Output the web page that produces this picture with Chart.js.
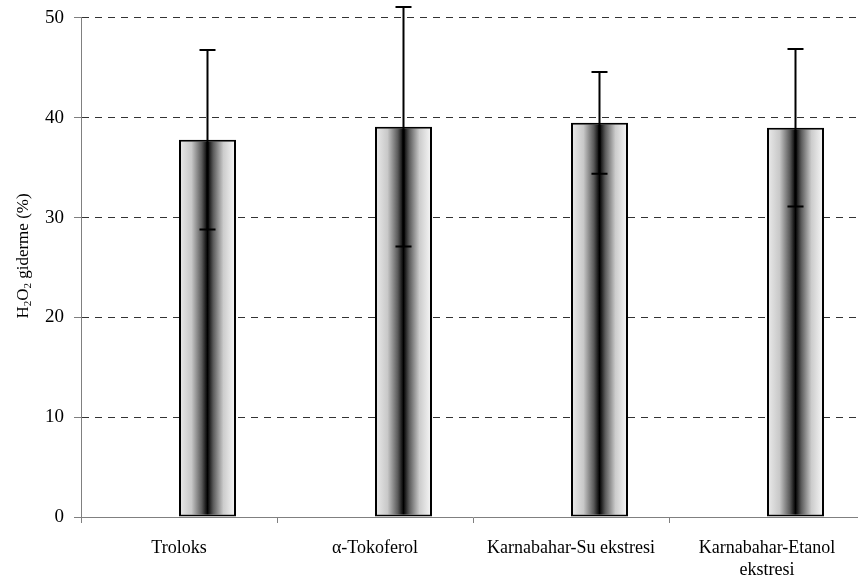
<!DOCTYPE html>
<html>
<head>
<meta charset="utf-8">
<script src="https://cdn.jsdelivr.net/npm/chart.js@4"></script>
<style>
  html, body { margin: 0; padding: 0; overflow: hidden; background: #fff; }
</style>
</head>
<body>
<canvas id="myChart" width="866" height="580"></canvas>
<script>
// H2O2 removal (%) per sample, mean and standard deviation
const categories = ['Troloks', 'α-Tokoferol', 'Karnabahar-Su ekstresi', ['Karnabahar-Etanol', 'ekstresi']];
const removal = [37.8, 39.1, 39.5, 39.0];
const removalSd = [9.0, 12.0, 5.1, 7.9];
const yTicks = [0, 10, 20, 30, 40, 50];

const CAT_PCT = 0.5816;

Chart.defaults.font.family = "'Liberation Serif', 'Times New Roman', serif";
Chart.defaults.color = '#000';

// white -> black -> white fill across each bar
function barGradient(c) {
    const chart = c.chart;
    const xScale = chart.scales.x;
    if (c.dataIndex === undefined || !xScale || xScale.right === undefined) {
        return '#888';
    }
    const catWidth = (xScale.right - xScale.left) / categories.length;
    const barW = catWidth * CAT_PCT / 2;
    const left = xScale.getPixelForValue(c.dataIndex);
    const g = chart.ctx.createLinearGradient(left, 0, left + barW, 0);
    g.addColorStop(0, '#ececec');
    g.addColorStop(0.22, '#c8c8c8');
    g.addColorStop(0.4, '#5a5a5a');
    g.addColorStop(0.5, '#000');
    g.addColorStop(0.6, '#5a5a5a');
    g.addColorStop(0.78, '#cccccc');
    g.addColorStop(1, '#fafafa');
    return g;
}

const errorBars = {
    id: 'errorBars',
    afterDatasetsDraw(chart) {
        const ctx = chart.ctx;
        const y = chart.scales.y;
        const meta = chart.getDatasetMeta(1);
        ctx.save();
        ctx.strokeStyle = '#000';
        ctx.lineWidth = 2;
        meta.data.forEach((bar, i) => {
            const top = y.getPixelForValue(removal[i] + removalSd[i]);
            const bottom = y.getPixelForValue(removal[i] - removalSd[i]);
            ctx.beginPath();
            ctx.moveTo(bar.x, top);
            ctx.lineTo(bar.x, bottom);
            ctx.moveTo(bar.x - 8, top);
            ctx.lineTo(bar.x + 8, top);
            ctx.moveTo(bar.x - 8, bottom);
            ctx.lineTo(bar.x + 8, bottom);
            ctx.stroke();
        });
        ctx.restore();
    }
};

// rotated axis title with subscripts
const yTitle = {
    id: 'yTitle',
    afterDraw(chart) {
        const ctx = chart.ctx;
        const parts = [
            ['H', false], ['2', true], ['O', false], ['2', true], [' giderme (%)', false]
        ];
        const big = "17px 'Liberation Serif'";
        const small = "11px 'Liberation Serif'";
        let total = 0;
        parts.forEach(p => {
            ctx.font = p[1] ? small : big;
            total += ctx.measureText(p[0]).width;
        });
        ctx.save();
        ctx.translate(28, 256);
        ctx.rotate(-Math.PI / 2);
        ctx.fillStyle = '#000';
        ctx.textBaseline = 'alphabetic';
        let x = -total / 2;
        parts.forEach(p => {
            ctx.font = p[1] ? small : big;
            ctx.fillText(p[0], x, p[1] ? 3 : 0);
            x += ctx.measureText(p[0]).width;
        });
        ctx.restore();
    }
};

const ctx = document.getElementById('myChart').getContext('2d');
const chart = new Chart(ctx, {
    type: 'bar',
    data: {
        labels: categories,
        datasets: [{
            label: '',
            data: categories.map(() => null)
        }, {
            label: 'H2O2 giderme (%)',
            data: removal,
            backgroundColor: barGradient,
            borderColor: '#000',
            borderWidth: 2,
            borderSkipped: false
        }]
    },
    options: {
        responsive: false,
        animation: false,
        categoryPercentage: CAT_PCT,
        barPercentage: 1.0,
        layout: { padding: { top: 0, right: 1, left: 0, bottom: 0 } },
        plugins: {
            legend: { display: false },
            tooltip: { enabled: false }
        },
        scales: {
            x: {
                afterFit(scale) { scale.height = 63; },
                grid: {
                    drawOnChartArea: false,
                    drawTicks: true,
                    tickLength: 6,
                    tickColor: '#808080',
                    offset: true
                },
                border: { color: '#808080', width: 1 },
                ticks: {
                    font: { size: 18, lineHeight: 1.25 },
                    padding: 14,
                    maxRotation: 0,
                    autoSkip: false
                }
            },
            y: {
                min: yTicks[0],
                max: yTicks[yTicks.length - 1],
                afterFit(scale) { scale.width = 81; },
                afterBuildTicks(scale) { scale.ticks = yTicks.map(v => ({ value: v })); },
                grid: {
                    color: c => (c.tick && c.tick.value === 0) ? 'rgba(0,0,0,0)' : '#333',
                    lineWidth: 1,
                    tickLength: 7,
                    tickColor: '#808080',
                    tickBorderDash: []
                },
                border: { color: '#808080', width: 1, dash: [7, 6] },
                ticks: {
                    font: { size: 19, lineHeight: 0.842 },
                    padding: 10
                }
            }
        }
    },
    plugins: [errorBars, yTitle]
});
</script>
</body>
</html>
